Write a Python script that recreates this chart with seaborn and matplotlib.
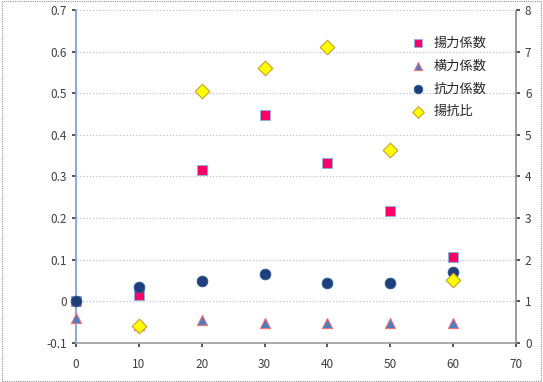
import seaborn as sns
import matplotlib.pyplot as plt
import pandas as pd

# データ
angle = [0, 10, 20, 30, 40, 50, 60]
lift = [0.0, 0.016, 0.316, 0.448, 0.333, 0.217, 0.107]
side = [-0.040, -0.057, -0.045, -0.053, -0.051, -0.053, -0.053]
drag = [0.0, 0.035, 0.050, 0.066, 0.045, 0.045, 0.071]
ld_angle = [10, 20, 30, 40, 50, 60]
ld_ratio = [0.41, 6.06, 6.61, 7.12, 4.64, 1.51]

labels = ["揚力係数", "横力係数", "抗力係数", "揚抗比"]

sns.set_theme(style="white")
plt.rcParams['font.family'] = ['Noto Sans CJK JP', 'DejaVu Sans']

fig = plt.figure(figsize=(5.43, 3.82), dpi=100)
ax = fig.add_axes([0.140, 0.102, 0.810, 0.872])
ax2 = ax.twinx()

df = pd.DataFrame({"angle": angle, "lift": lift, "side": side, "drag": drag})
df_ld = pd.DataFrame({"angle": ld_angle, "ld": ld_ratio})

sns.scatterplot(data=df, x="angle", y="lift", ax=ax, marker="s", s=55,
                color="#ff0066", edgecolor="#8fb0dc", linewidth=0.7,
                label=labels[0], zorder=3, clip_on=False)
sns.scatterplot(data=df, x="angle", y="side", ax=ax, marker="^", s=55,
                color="#4a7fc0", edgecolor="#ff7070", linewidth=0.7,
                label=labels[1], zorder=3, clip_on=False)
sns.scatterplot(data=df, x="angle", y="drag", ax=ax, marker="o", s=60,
                color="#1f3f7a", edgecolor="#2e5c9a", linewidth=0.6,
                label=labels[2], zorder=4, clip_on=False)
sns.scatterplot(data=df_ld, x="angle", y="ld", ax=ax2, marker="D", s=55,
                color="#ffff00", edgecolor="#c9a227", linewidth=0.8,
                label=labels[3], zorder=5, clip_on=False)

ax.set_xlim(0, 70)
ax.set_ylim(-0.1, 0.7)
ax2.set_ylim(0, 8)
ax.set_xticks(range(0, 71, 10))
ax.set_yticks([-0.1, 0, 0.1, 0.2, 0.3, 0.4, 0.5, 0.6, 0.7])
ax.set_yticklabels(["-0.1", "0", "0.1", "0.2", "0.3", "0.4", "0.5", "0.6", "0.7"])
ax2.set_yticks(range(0, 9))
ax.set_xlabel("")
ax.set_ylabel("")
ax2.set_ylabel("")

ax.grid(axis="y", linestyle=(0, (1, 2)), color="#b4b4d8", linewidth=0.8)
ax.set_axisbelow(True)

for a in (ax, ax2):
    for s in a.spines.values():
        s.set_visible(False)
ax.spines["left"].set_visible(True)
ax.spines["left"].set_color("#7f9fcf")
ax.spines["bottom"].set_visible(True)
ax.spines["bottom"].set_color("#a0a0a0")
ax2.spines["right"].set_visible(True)
ax2.spines["right"].set_color("#909090")
ax2.spines["right"].set_linestyle((0, (1, 1)))

ax.tick_params(axis="both", labelsize=8.5, length=3, direction="out", left=True, bottom=True,
               colors="#404040")
ax2.tick_params(axis="y", labelsize=8.5, length=3, direction="out", right=True, colors="#404040")
ax.tick_params(axis="x", pad=8)

h1, l1 = ax.get_legend_handles_labels()
h2, l2 = ax2.get_legend_handles_labels()
ax.get_legend().remove()
ax2.legend(h1 + h2, l1 + l2, loc="upper right", bbox_to_anchor=(0.96, 0.955),
           frameon=False, fontsize=9.5, labelspacing=0.75, handletextpad=0.2,
           markerscale=0.8)

# 外枠
fig.patches.append(plt.Rectangle((0.003, 0.003), 0.994, 0.994, transform=fig.transFigure,
                                 fill=False, edgecolor="#909090", linestyle=(0, (1, 1)),
                                 linewidth=0.8))

fig.savefig("out.png", dpi=100)
